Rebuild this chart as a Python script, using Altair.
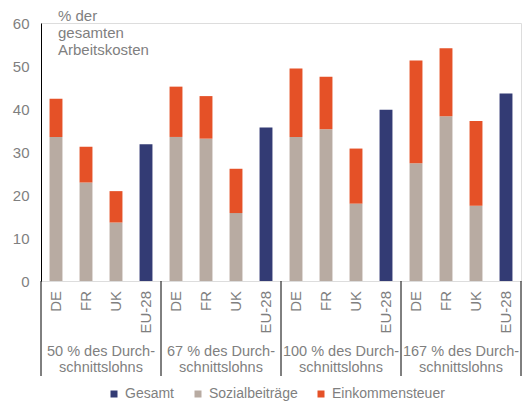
import altair as alt
import pandas as pd

group_ids = ["g50", "g67", "g100", "g167"]
group_labels = [
    "50 % des Durch-\nschnittslohns",
    "67 % des Durch-\nschnittslohns",
    "100 % des Durch-\nschnittslohns",
    "167 % des Durch-\nschnittslohns",
]
countries = ["DE", "FR", "UK"]
eu_label = "EU-28"
sozial = [[33.5, 22.9, 13.6], [33.5, 33.1, 15.8], [33.5, 35.3, 18.0], [27.4, 38.3, 17.5]]
steuer = [[8.9, 8.3, 7.3], [11.7, 9.9, 10.3], [15.9, 12.2, 12.8], [23.9, 15.8, 19.7]]
gesamt_eu = [31.8, 35.7, 39.8, 43.6]
series = ["Gesamt", "Sozialbeiträge", "Einkommensteuer"]
colors = ["#333B74", "#B8ABA2", "#E55127"]
y_title = "% der\ngesamten\nArbeitskosten"
y_ticks = [0, 10, 20, 30, 40, 50, 60]

GREY = "#7F7F7F"
FONT = "Liberation Sans"
W, H = 480, 258

keys = []
labels = []
rows = []
for gi, g in enumerate(group_ids):
    for ci, c in enumerate(countries):
        k = f"{g}_{c}"
        keys.append(k)
        labels.append(c)
        rows.append({"key": k, "series": "Sozialbeiträge", "value": sozial[gi][ci], "ord": 0})
        rows.append({"key": k, "series": "Einkommensteuer", "value": steuer[gi][ci], "ord": 1})
    k = f"{g}_{eu_label}"
    keys.append(k)
    labels.append(eu_label)
    rows.append({"key": k, "series": "Gesamt", "value": gesamt_eu[gi], "ord": 0})
df = pd.DataFrame(rows)

xscale = alt.Scale(domain=keys, paddingInner=0, paddingOuter=0)

bars = alt.Chart(df).mark_bar(width=alt.RelativeBandSize(0.43)).encode(
    x=alt.X(
        "key:N",
        scale=xscale,
        axis=alt.Axis(
            title=None,
            labels=False,
            ticks=False,
            domainColor="black",
            domainWidth=1,
        ),
    ),
    y=alt.Y(
        "value:Q",
        stack="zero",
        scale=alt.Scale(domain=[0, 60], nice=False),
        axis=alt.Axis(
            title=None,
            values=y_ticks,
            ticks=False,
            grid=False,
            domainColor="black",
            domainWidth=1,
            labelPadding=12,
            labelFontSize=15,
            labelColor=GREY,
            labelFont=FONT,
        ),
    ),
    color=alt.Color(
        "series:N",
        scale=alt.Scale(domain=series, range=colors),
        legend=alt.Legend(
            title=None,
            orient="none",
            legendX=66,
            legendY=364,
            direction="horizontal",
            symbolType="square",
            symbolSize=49,
            symbolStrokeWidth=0,
            labelFontSize=14,
            labelColor=GREY,
            labelFont=FONT,
            columnPadding=16,
            labelOffset=4,
        ),
    ),
    order=alt.Order("ord:Q"),
)

lab_df = pd.DataFrame({"key": keys, "label": labels})
xlabels = alt.Chart(lab_df).mark_text(
    angle=270, align="right", baseline="middle",
    fontSize=15, color=GREY, font=FONT,
).encode(
    x=alt.X("key:N", scale=xscale, axis=None, bandPosition=0.5),
    y=alt.value(H + 10),
    text="label:N",
)

sep_df = pd.DataFrame({"key": [f"{g}_{countries[0]}" for g in group_ids]})
seps = alt.Chart(sep_df).mark_rule(color="black", strokeWidth=1).encode(
    x=alt.X("key:N", scale=xscale, axis=None, bandPosition=0),
    y=alt.value(H),
    y2=alt.value(353),
)
end_df = pd.DataFrame({"key": [keys[-1]]})
end_sep = alt.Chart(end_df).mark_rule(color="black", strokeWidth=1).encode(
    x=alt.X("key:N", scale=xscale, axis=None, bandPosition=1),
    y=alt.value(H),
    y2=alt.value(353),
)

glab_df = pd.DataFrame({
    "key": [f"{g}_{countries[1]}" for g in group_ids],
    "label": group_labels,
})
glabels = alt.Chart(glab_df).mark_text(
    align="center", baseline="middle", lineBreak="\n", lineHeight=16,
    fontSize=14.5, color=GREY, font=FONT,
).encode(
    x=alt.X("key:N", scale=xscale, axis=None, bandPosition=1),
    y=alt.value(329),
    text="label:N",
)

title_df = pd.DataFrame({"t": [y_title]})
ytitle = alt.Chart(title_df).mark_text(
    align="left", baseline="middle", lineBreak="\n", lineHeight=17,
    fontSize=15, color=GREY, font=FONT,
).encode(
    x=alt.value(17),
    y=alt.value(-7),
    text="t:N",
)

chart = alt.layer(bars, xlabels, seps, end_sep, glabels, ytitle).properties(
    width=W,
    height=H,
    autosize=alt.AutoSizeParams(type="none"),
    padding={"left": 33, "top": 15, "right": 1, "bottom": 120},
).configure_view(stroke=None).configure(font=FONT)

chart.save("out.html", embed_options={"renderer": "svg", "actions": False})
